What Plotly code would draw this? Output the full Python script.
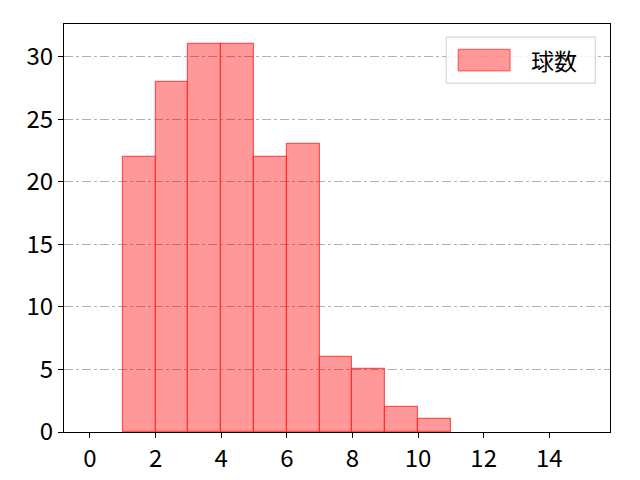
import plotly.graph_objects as go

# histogram bins (left edges) and counts
bin_left = [1, 2, 3, 4, 5, 6, 7, 8, 9, 10]
counts = [22, 28, 31, 31, 22, 23, 6, 5, 2, 1]
series_name = "球数"
x_ticks = [0, 2, 4, 6, 8, 10, 12, 14]
y_ticks = [0, 5, 10, 15, 20, 25, 30]

font_main = "Noto Sans CJK JP, DejaVu Sans, sans-serif"

fig = go.Figure()

fig.add_trace(go.Bar(
    x=[b + 0.5 for b in bin_left],
    y=counts,
    width=1,
    marker=dict(color="rgba(255,0,0,0.4)",
                line=dict(color="rgba(255,40,40,0.75)", width=1.2)),
    name=series_name,
    showlegend=False,
))

# legend drawn by hand, matplotlib style
fig.add_shape(type="rect", xref="paper", yref="paper",
              x0=0.70, x1=0.973, y0=0.855, y1=0.968,
              line=dict(color="#cccccc", width=1), fillcolor="rgba(255,255,255,0.85)",
              layer="above")
fig.add_shape(type="rect", xref="paper", yref="paper",
              x0=0.722, x1=0.817, y0=0.885, y1=0.938,
              line=dict(color="rgba(255,40,40,0.75)", width=1), fillcolor="rgba(255,0,0,0.4)",
              layer="above")
fig.add_annotation(xref="paper", yref="paper", x=0.852, y=0.912,
                   text=series_name, showarrow=False, xanchor="left", yanchor="middle",
                   font=dict(size=23, color="black", family=font_main))

fig.update_layout(
    width=640, height=480,
    margin=dict(l=56, r=38, t=16, b=56),
    plot_bgcolor="white", paper_bgcolor="white",
    font=dict(family=font_main, size=24, color="black"),
    bargap=0,
    xaxis=dict(range=[-0.79, 15.85], tickvals=x_ticks, ticks="outside", ticklen=5,
               tickcolor="black", showline=True, linecolor="black", mirror=True,
               showgrid=False, zeroline=False),
    yaxis=dict(range=[0, 32.6], tickvals=y_ticks, ticks="outside", ticklen=5,
               tickcolor="black", showline=True, linecolor="black", mirror=True,
               showgrid=True, gridcolor="#b0b0b0", griddash="dashdot", gridwidth=0.8,
               zeroline=False),
)

fig.write_html("out.html")
